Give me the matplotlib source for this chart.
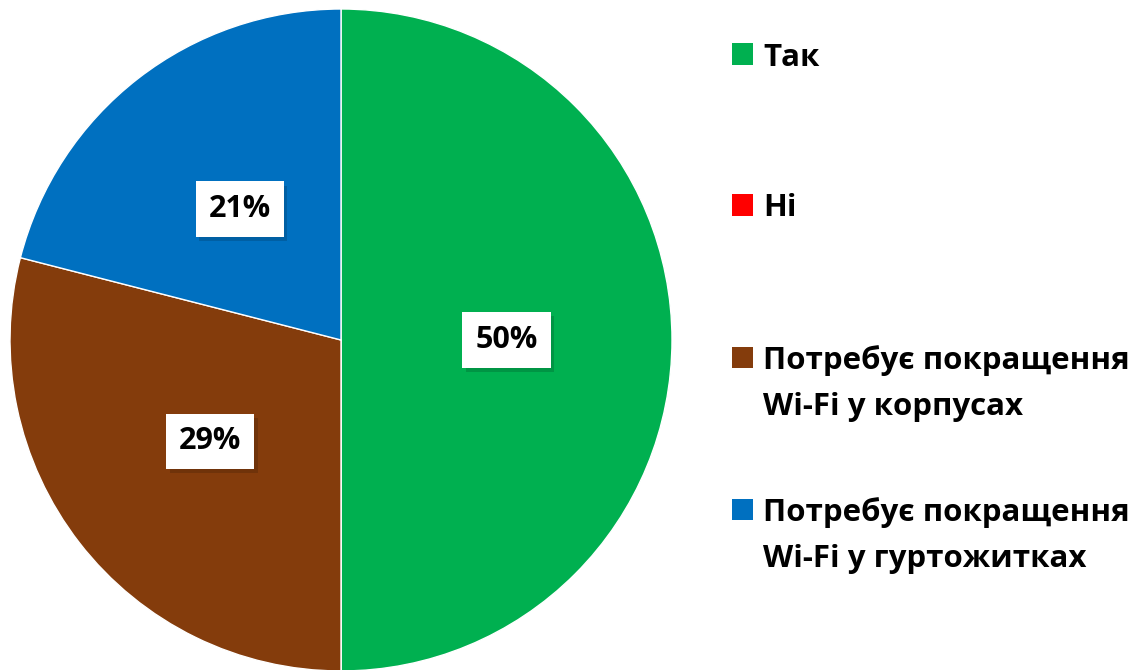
import matplotlib
matplotlib.use("Agg")
import matplotlib.pyplot as plt
from matplotlib.patches import Rectangle
import matplotlib.patheffects as pe
import numpy as np

categories = ["Так", "Ні", "Потребує покращення\nWi-Fi у корпусах", "Потребує покращення\nWi-Fi у гуртожитках"]
values = [50, 0, 29, 21]
colors = ["#00B050", "#FF0000", "#843C0C", "#0070C0"]

plt.rcParams['font.family'] = ['Open Sans', 'DejaVu Sans']

W, H = 1137, 670
fig = plt.figure(figsize=(W / 100, H / 100), dpi=100)
cx, cy, r = 341, 340, 331
ax = fig.add_axes([(cx - r) / W, (H - cy - r) / H, 2 * r / W, 2 * r / H])

wedges, texts = ax.pie(values, colors=colors, startangle=90, counterclock=False,
                       radius=1, wedgeprops=dict(edgecolor="white", linewidth=1))
ax.set_xlim(-1, 1)
ax.set_ylim(-1, 1)
ax.set_aspect("equal")
ax.axis("off")

total = sum(values)
angle = 90.0
for v in values:
    span = 360.0 * v / total
    mid = np.deg2rad(angle - span / 2)
    angle -= span
    if v == 0:
        continue
    x, y = 0.5 * np.cos(mid), 0.5 * np.sin(mid)
    t = ax.text(x, y, f"{v}%", ha="center", va="center", fontsize=22, fontweight="bold",
                color="black",
                bbox=dict(boxstyle="square,pad=0.42", facecolor="white", edgecolor="none"))
    t.get_bbox_patch().set_path_effects(
        [pe.SimplePatchShadow(offset=(2.5, -3), shadow_rgbFace="black", alpha=0.15), pe.Normal()])

# legend
leg_y = [54, 205, 357, 509]
for lab, col, yy in zip(categories, colors, leg_y):
    fig.patches.append(Rectangle((732 / W, (H - yy - 10.5) / H), 21 / W, 21 / H,
                                 transform=fig.transFigure, facecolor=col, edgecolor="none"))
    for i, ln in enumerate(lab.split("\n")):
        fig.text(763 / W, (H - yy - i * 47) / H, ln, ha="left", va="center_baseline",
                 fontsize=22.5, fontweight="bold", color="black")

fig.savefig("out.png", dpi=100, facecolor="white")
